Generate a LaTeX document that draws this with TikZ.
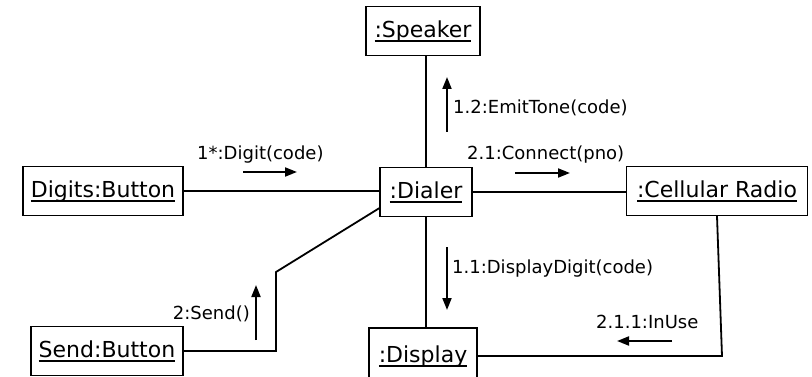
\documentclass[tikz,border=0pt]{standalone}
\usepackage{fontspec}
\setmainfont{DejaVu Sans}
\usetikzlibrary{arrows.meta, calc}

% object names are underlined at a fixed depth
\newcommand{\objname}[1]{\setbox0\hbox{#1}\rlap{\rule[-4.5pt]{\wd0}{1.5pt}}\box0}

\tikzset{
  obj/.style={draw, line width=1.2pt, minimum height=49pt, inner sep=0pt,
              font=\fontsize{22}{26}\selectfont},
  conn/.style={line width=1.8pt},
  msg/.style={line width=1.8pt, -{Triangle[length=12pt, width=9pt]}},
  lbl/.style={anchor=base west, inner sep=0pt, font=\fontsize{18}{22}\selectfont},
}

\begin{document}
\begin{tikzpicture}[x=1pt, y=-1pt]
  \useasboundingbox (0,0) rectangle (812,377);
  \clip (0,0) rectangle (812,377);

  % objects
  \node[obj, minimum width=114pt] (speaker) at (423,31) {\objname{:Speaker}};
  \node[obj, minimum width=92pt] (dialer) at (426,192) {\objname{:Dialer}};
  \node[obj, minimum width=160pt] (digits) at (103,191) {\objname{Digits:Button}};
  \node[obj, minimum width=181pt] (radio) at (717,191) {\objname{:Cellular Radio}};
  \node[obj, minimum width=152pt] (send) at (107,351) {\objname{Send:Button}};
  \node[obj, minimum width=108pt, minimum height=56pt] (display) at (423,356) {\objname{:Display}};

  % links
  \draw[conn] (dialer.north) -- (dialer.north |- speaker.south);
  \draw[conn] (dialer.south) -- (dialer.south |- display.north);
  \draw[conn] (digits.east) -- (digits.east -| dialer.west);
  \draw[conn] (dialer.east) -- (dialer.east -| radio.west);
  \coordinate (sendbend) at (276,272);
  \draw[conn] (send.east) -| (sendbend) -- ([yshift=9pt]dialer.south west);
  \coordinate (radiobend) at (722,356);
  \draw[conn] (radio.south) -- (radiobend) -- (display.east);

  % messages
  \node[lbl] (digitmsg) at (197,160) {1*:Digit(code)};
  \node[lbl] (connectmsg) at (467,160) {2.1:Connect(pno)};
  \node[lbl] (tonemsg) at (453,114) {1.2:EmitTone(code)};
  \node[lbl] (showmsg) at (452,273) {1.1:DisplayDigit(code)};
  \node[lbl, anchor=base east] (sendmsg) at (250,319) {2:Send()};
  \node[lbl] (inusemsg) at (596,328) {2.1.1:InUse};

  \coordinate (digitfrom) at (243,172);   \coordinate (digitto) at (297,172);
  \coordinate (connectfrom) at (515,173); \coordinate (connectto) at (570,173);
  \coordinate (tonefrom) at (447,132);    \coordinate (toneto) at (447,77);
  \coordinate (showfrom) at (447,247);    \coordinate (showto) at (447,310);
  \coordinate (sendfrom) at (256,340);    \coordinate (sendto) at (256,285);
  \coordinate (inusefrom) at (672,341);   \coordinate (inuseto) at (617,341);

  \draw[msg] (digitfrom) -- (digitto);
  \draw[msg] (connectfrom) -- (connectto);
  \draw[msg] (tonefrom) -- (toneto);
  \draw[msg] (showfrom) -- (showto);
  \draw[msg] (sendfrom) -- (sendto);
  \draw[msg] (inusefrom) -- (inuseto);
\end{tikzpicture}
\end{document}
